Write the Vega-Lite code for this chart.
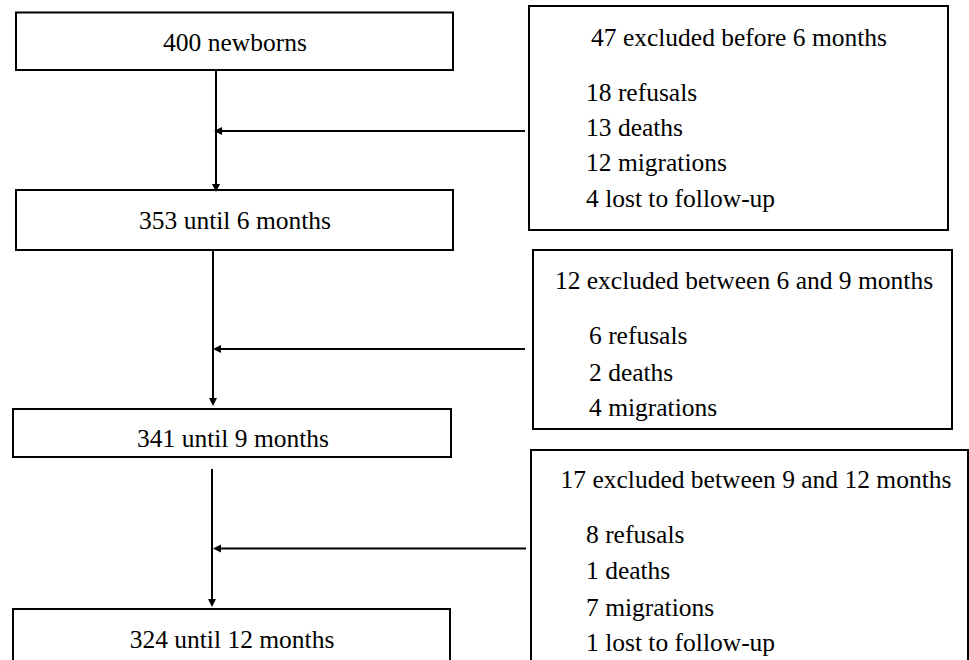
{
  "$schema": "https://vega.github.io/schema/vega-lite/v6.json",
  "width": 969,
  "height": 660,
  "padding": 0,
  "autosize": {"type": "none"},
  "config": {"view": {"stroke": null}, "font": "Liberation Serif"},
  "datasets": {
    "boxes": [
      {"id": "b1", "x1": 16, "x2": 453, "y1": 12.5, "y2": 70},
      {"id": "b2", "x1": 529, "x2": 948, "y1": 6, "y2": 230},
      {"id": "b3", "x1": 16, "x2": 453, "y1": 190, "y2": 250},
      {"id": "b4", "x1": 533, "x2": 952, "y1": 250, "y2": 429},
      {"id": "b5", "x1": 13, "x2": 451, "y1": 409, "y2": 457},
      {"id": "b6", "x1": 531, "x2": 968, "y1": 450, "y2": 680},
      {"id": "b7", "x1": 13, "x2": 450, "y1": 609, "y2": 680}
    ],
    "lines": [
      {"id": "v1", "x1": 216, "x2": 216, "y1": 70, "y2": 188},
      {"id": "h1", "x1": 525, "x2": 218, "y1": 131, "y2": 131},
      {"id": "v2", "x1": 213, "x2": 213, "y1": 250, "y2": 402},
      {"id": "h2", "x1": 525, "x2": 217, "y1": 349, "y2": 349},
      {"id": "v3", "x1": 212, "x2": 212, "y1": 469, "y2": 603},
      {"id": "h3", "x1": 526, "x2": 217, "y1": 548.5, "y2": 548.5}
    ],
    "heads": [
      {"x": 216, "y": 188, "dir": "down"},
      {"x": 213, "y": 402, "dir": "down"},
      {"x": 212, "y": 603, "dir": "down"},
      {"x": 218, "y": 131, "dir": "left"},
      {"x": 217, "y": 349, "dir": "left"},
      {"x": 217, "y": 548.5, "dir": "left"}
    ],
    "centered": [
      {"label": "400 newborns", "x": 235, "y": 51},
      {"label": "353 until 6 months", "x": 235, "y": 229},
      {"label": "341 until 9 months", "x": 233, "y": 447},
      {"label": "324 until 12 months", "x": 232, "y": 647.5},
      {"label": "47 excluded before 6 months", "x": 739, "y": 45.5},
      {"label": "12 excluded between 6 and 9 months", "x": 744, "y": 288.5},
      {"label": "17 excluded between 9 and 12 months", "x": 756, "y": 487.5}
    ],
    "items": [
      {"label": "18 refusals", "x": 586, "y": 100.5},
      {"label": "13 deaths", "x": 586, "y": 135.5},
      {"label": "12 migrations", "x": 586, "y": 170.5},
      {"label": "4 lost to follow-up", "x": 586, "y": 206.5},
      {"label": "6 refusals", "x": 589, "y": 343.5},
      {"label": "2 deaths", "x": 589, "y": 380.5},
      {"label": "4 migrations", "x": 589, "y": 415.5},
      {"label": "8 refusals", "x": 586, "y": 542.5},
      {"label": "1 deaths", "x": 586, "y": 578.5},
      {"label": "7 migrations", "x": 586, "y": 615.5},
      {"label": "1 lost to follow-up", "x": 586, "y": 650.5}
    ]
  },
  "layer": [
    {
      "data": {"name": "boxes"},
      "mark": {"type": "rect", "filled": false, "stroke": "black", "strokeWidth": 2, "clip": true},
      "encoding": {
        "x": {"field": "x1", "type": "quantitative", "scale": {"domain": [0, 969], "nice": false, "zero": false}, "axis": null},
        "x2": {"field": "x2"},
        "y": {"field": "y1", "type": "quantitative", "scale": {"domain": [0, 660], "nice": false, "zero": false, "reverse": true}, "axis": null},
        "y2": {"field": "y2"}
      }
    },
    {
      "data": {"name": "lines"},
      "mark": {"type": "rule", "stroke": "black", "strokeWidth": 2},
      "encoding": {
        "x": {"field": "x1", "type": "quantitative", "scale": {"domain": [0, 969], "nice": false, "zero": false}, "axis": null},
        "x2": {"field": "x2"},
        "y": {"field": "y1", "type": "quantitative", "scale": {"domain": [0, 660], "nice": false, "zero": false, "reverse": true}, "axis": null},
        "y2": {"field": "y2"}
      }
    },
    {
      "data": {"name": "heads"},
      "mark": {"type": "point", "filled": true, "color": "black", "opacity": 1, "size": 64, "strokeWidth": 0},
      "encoding": {
        "x": {"field": "x", "type": "quantitative", "scale": {"domain": [0, 969], "nice": false, "zero": false}, "axis": null},
        "y": {"field": "y", "type": "quantitative", "scale": {"domain": [0, 660], "nice": false, "zero": false, "reverse": true}, "axis": null},
        "shape": {"field": "dir", "type": "nominal", "legend": null, "scale": {"domain": ["down", "left"], "range": ["M-1,-1L1,-1L0,1Z", "M1,-1L1,1L-1,0Z"]}}
      }
    },
    {
      "data": {"name": "centered"},
      "mark": {"type": "text", "font": "Liberation Serif", "fontWeight": 400, "fontStyle": "normal", "fontSize": 25.5, "align": "center", "baseline": "alphabetic"},
      "encoding": {
        "x": {"field": "x", "type": "quantitative", "scale": {"domain": [0, 969], "nice": false, "zero": false}, "axis": null},
        "y": {"field": "y", "type": "quantitative", "scale": {"domain": [0, 660], "nice": false, "zero": false, "reverse": true}, "axis": null},
        "text": {"field": "label"}
      }
    },
    {
      "data": {"name": "items"},
      "mark": {"type": "text", "font": "Liberation Serif", "fontWeight": 400, "fontStyle": "normal", "fontSize": 25.5, "align": "left", "baseline": "alphabetic"},
      "encoding": {
        "x": {"field": "x", "type": "quantitative", "scale": {"domain": [0, 969], "nice": false, "zero": false}, "axis": null},
        "y": {"field": "y", "type": "quantitative", "scale": {"domain": [0, 660], "nice": false, "zero": false, "reverse": true}, "axis": null},
        "text": {"field": "label"}
      }
    }
  ]
}
